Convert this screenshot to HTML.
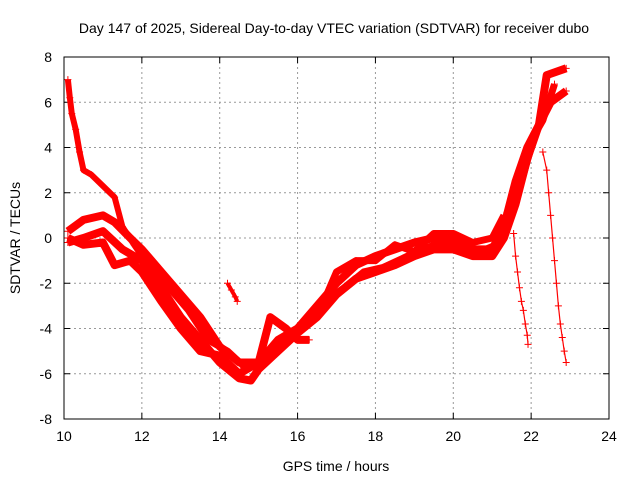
<!DOCTYPE html>
<html><head><meta charset="utf-8"><style>
body{margin:0;background:#fff}
svg text{font-family:"Liberation Sans",sans-serif;font-size:14px;fill:#000}
</style></head><body>
<svg id="chart" width="640" height="480">
<rect width="640" height="480" fill="#fff"/>
<text x="334" y="33" text-anchor="middle">Day 147 of 2025, Sidereal Day-to-day VTEC variation (SDTVAR) for receiver dubo</text>
<text x="336" y="471" text-anchor="middle">GPS time / hours</text>
<text transform="translate(20,238) rotate(-90)" text-anchor="middle">SDTVAR / TECUs</text>
<g id="grid"></g><g id="marks"></g>
<rect x="64" y="57" width="545" height="362" fill="none" stroke="#000"/>
</svg>
<script>
const xTicks=[10,12,14,16,18,20,22,24];
const yTicks=[-8,-6,-4,-2,0,2,4,6,8];
const trackA=[[10.1,7],[10.15,6.2],[10.2,5.5],[10.3,4.8],[10.4,3.8],[10.5,3.0],[10.7,2.8],[11,2.3],[11.3,1.8],[11.5,0.5],[11.8,-0.3],[12,-0.8],[12.3,-1.5]];
const trackB=[[10.1,0.3],[10.5,0.8],[11,1.0],[11.3,0.7],[11.7,0],[12,-0.5],[12.5,-1.5],[13,-2.5],[13.5,-3.5],[14,-4.8],[14.5,-5.5],[15,-5.5],[15.5,-4.5],[16,-4.0],[16.5,-3.0],[17,-2.0],[17.5,-1.2],[18,-0.8],[18.5,-0.5],[19,-0.2],[19.5,0.0],[20,0],[20.5,-0.5],[21,-0.5],[21.3,0.5],[21.6,2.5],[21.9,4.0],[22.2,5.0],[22.5,6.0],[22.9,6.5]];
const trackC=[[10.1,-0.2],[10.5,0],[11,0.3],[11.5,-0.5],[12,-1.0],[12.5,-2.2],[13,-3.5],[13.5,-4.5],[14,-5.5],[14.5,-6.2],[14.8,-6.3],[15,-5.8],[15.5,-5.0],[16,-4.2],[16.5,-3.5],[17,-2.5],[17.5,-1.8],[18,-1.5],[18.5,-1.2],[19,-0.8],[19.5,-0.5],[20,-0.5],[20.5,-0.8],[21,-0.8],[21.3,0],[21.6,1.5],[21.9,3.5],[22.2,5.0],[22.4,7.2],[22.9,7.5]];
const trackD=[[10.1,0.0],[10.5,-0.3],[11,-0.2],[11.3,-1.2],[11.7,-1.0],[12,-1.5],[12.5,-2.8],[13,-4.0],[13.5,-5.0],[14,-5.2],[14.5,-6.0],[15,-5.5],[15.3,-3.5],[15.7,-4.0],[16,-4.5],[16.3,-4.5]];
const trackE=[[16.5,-3.5],[17,-1.5],[17.5,-1.0],[18,-1.0],[18.5,-0.3],[19,-0.6],[19.5,0.2],[20,0.2],[20.5,-0.2],[21,0.0],[21.3,1.0]];
const trackF=[[12.2,-1.2],[12.7,-2.2],[13.2,-3.2],[13.7,-4.5],[14.2,-5.0],[14.7,-5.8],[15.2,-5.2],[15.7,-4.3],[16.2,-3.8],[16.7,-2.8],[17.2,-2.2],[17.7,-1.5],[18.2,-1.3],[18.7,-0.9],[19.2,-0.5],[19.7,-0.2],[20.2,-0.3],[20.7,-0.6],[21.1,-0.3],[21.5,1.0],[21.8,2.8],[22.1,4.6],[22.3,5.2],[22.6,6.8]];
const isolated=[[14.2,-2.0],[14.3,-2.3],[14.4,-2.6],[14.45,-2.8]];
const drop1=[[21.55,0.2],[21.6,-0.8],[21.65,-1.5],[21.7,-2.2],[21.75,-2.8],[21.8,-3.2],[21.85,-3.8],[21.9,-4.3],[21.92,-4.7]];
const drop2=[[22.3,3.8],[22.4,3.0],[22.45,2.0],[22.5,1.0],[22.55,0],[22.6,-1.0],[22.65,-2.0],[22.7,-3.0],[22.75,-3.8],[22.8,-4.4],[22.85,-5.0],[22.9,-5.5]];
const NS='http://www.w3.org/2000/svg';
const X=v=>64+(v-10)*545/14, Y=v=>238-v*362/16;
const grid=document.getElementById('grid'), marks=document.getElementById('marks'), svg=document.getElementById('chart');
function mk(t,a,p){const e=document.createElementNS(NS,t);for(const k in a)e.setAttribute(k,a[k]);p.appendChild(e);return e;}
xTicks.forEach(t=>{const x=X(t);
 if(t>10&&t<24){const g=mk('line',{x1:x,x2:x,y1:57,y2:419,stroke:'#999','stroke-dasharray':'2,3'},grid);}
 mk('line',{x1:x,x2:x,y1:419,y2:413,stroke:'#000'},grid);mk('line',{x1:x,x2:x,y1:57,y2:63,stroke:'#000'},grid);
 const l=mk('text',{x:x,y:441,'text-anchor':'middle'},svg);l.textContent=t;});
yTicks.forEach(t=>{const y=Y(t);
 if(t>-8&&t<8){const g=mk('line',{x1:64,x2:609,y1:y,y2:y,stroke:'#999','stroke-dasharray':'2,3'},grid);}
 mk('line',{x1:64,x2:70,y1:y,y2:y,stroke:'#000'},grid);mk('line',{x1:609,x2:603,y1:y,y2:y,stroke:'#000'},grid);
 const l=mk('text',{x:52,y:y+5,'text-anchor':'end'},svg);l.textContent=t;});
function plus(v,g){const x=X(v[0]),y=Y(v[1]);mk('path',{d:`M${x-3.5},${y}H${x+3.5}M${x},${y-3.5}V${y+3.5}`,stroke:'#f00','stroke-width':1},g);}
[[trackA,'track-a',6],[trackB,'track-b',8],[trackC,'track-c',8],[trackD,'track-d',8],[trackE,'track-e',7],[trackF,'track-f',7],[isolated,'isolated-segment',4],[drop1,'drop-track-1',0],[drop2,'drop-track-2',0]].forEach(([d,n,w])=>{
 const g=mk('g',{},marks);
 mk('polyline',{points:d.map(p=>X(p[0])+','+Y(p[1])).join(' '),fill:'none',stroke:'#f00','stroke-width':w>0?w:1.2,'stroke-linejoin':'round'},g);
 d.forEach(p=>plus(p,g));});
</script>
</body></html>
